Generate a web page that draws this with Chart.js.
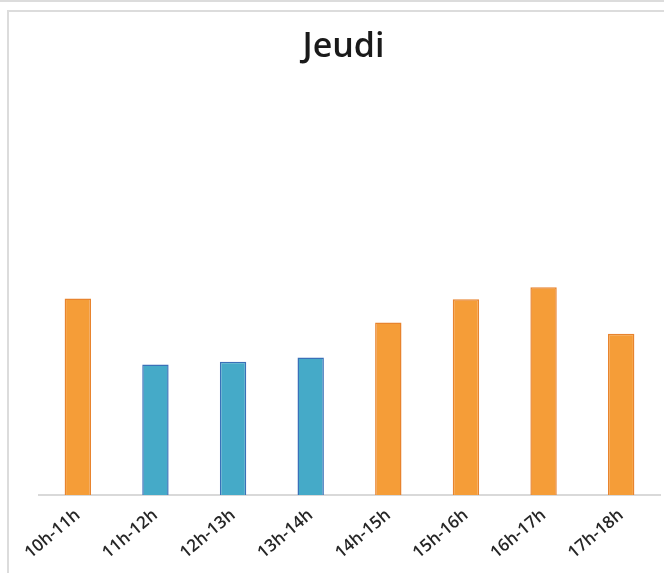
<!DOCTYPE html>
<html>
<head>
<meta charset="utf-8">
<script src="https://cdn.jsdelivr.net/npm/chart.js@4/dist/chart.umd.min.js"></script>
<style>
  html, body { margin: 0; padding: 0; background: #fff; }
  body { width: 664px; height: 573px; position: relative; overflow: hidden; }
  .topline { position: absolute; left: 0; top: 0; width: 664px; height: 2px; background: #dcdcdc; }
  .frame { position: absolute; left: 7px; top: 10px; width: 700px; height: 600px; border: 2px solid #dcdcdc; }
  #wrap { position: absolute; left: 0; top: 0; width: 664px; height: 573px; }
</style>
</head>
<body>
<div class="topline"></div>
<div class="frame"></div>
<div id="wrap"><canvas id="jeudiChart"></canvas></div>
<script>
// Jeudi - frequentation par tranche horaire
const hours = ['10h-11h', '11h-12h', '12h-13h', '13h-14h', '14h-15h', '15h-16h', '16h-17h', '17h-18h'];
const visits = [49, 32.5, 33.2, 34.3, 43, 48.8, 51.8, 40.2];
const lunchHours = ['11h-12h', '12h-13h', '13h-14h'];

const isLunch = (i) => lunchHours.includes(hours[i]);

const ctx = document.getElementById('jeudiChart').getContext('2d');
const jeudiChart = new Chart(ctx, {
  type: 'bar',
  data: {
    labels: hours,
    datasets: [{
      label: 'Jeudi',
      data: visits,
      backgroundColor: hours.map((h, i) => isLunch(i) ? '#45aac8' : '#f59d38'),
      borderColor: hours.map((h, i) => isLunch(i) ? '#3a70b8' : '#e8842e'),
      borderWidth: 1.5,
      barPercentage: 0.34,
      categoryPercentage: 1
    }]
  },
  options: {
    responsive: true,
    maintainAspectRatio: false,
    animation: false,
    layout: {
      padding: { left: 27, right: 4, top: 0, bottom: 0 }
    },
    plugins: {
      legend: { display: false },
      tooltip: { enabled: false },
      title: {
        display: true,
        text: 'Jeudi',
        color: '#1a1a1a',
        font: { family: 'Open Sans', size: 34, weight: '600' },
        padding: { top: 27, bottom: 6 }
      }
    },
    scales: {
      x: {
        grid: { display: false, drawTicks: false },
        border: { display: true, color: '#d9d9d9', width: 2 },
        ticks: {
          color: '#262626',
          font: { family: 'Open Sans', size: 17, weight: '600' },
          minRotation: 40,
          maxRotation: 40,
          padding: 10
        }
      },
      y: {
        display: true,
        beginAtZero: true,
        max: 105,
        grid: { display: false, drawTicks: false },
        border: { display: false },
        ticks: { display: false },
        afterFit: (scale) => { scale.width = 12; }
      }
    }
  }
});
</script>
</body>
</html>
